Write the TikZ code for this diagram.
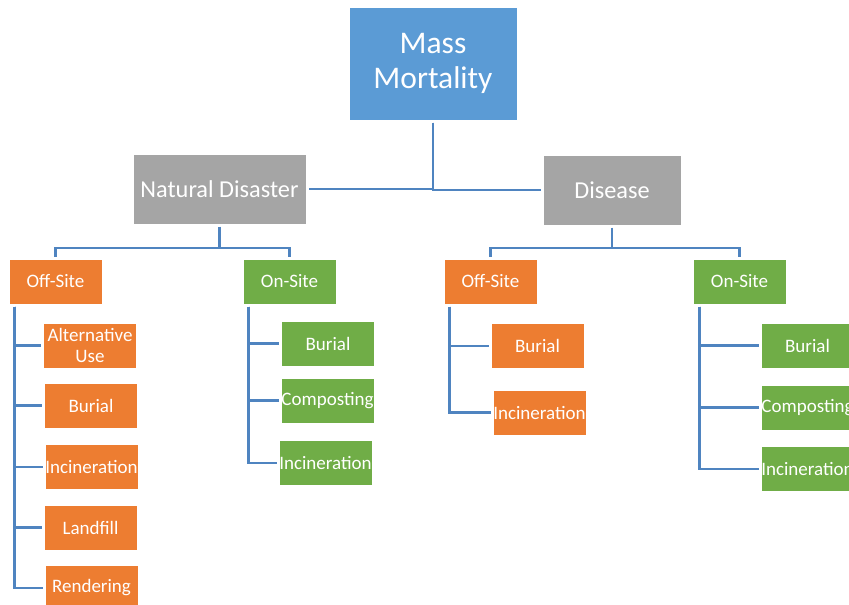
\documentclass[tikz,border=0pt]{standalone}
\usepackage{fontspec}
\setmainfont{Carlito}
\definecolor{cblue}{HTML}{5B9BD5}
\definecolor{cgray}{HTML}{A5A5A5}
\definecolor{corange}{HTML}{ED7D31}
\definecolor{cgreen}{HTML}{70AD47}
\definecolor{cline}{HTML}{4F84C0}
\begin{document}
\begin{tikzpicture}[x=1pt,y=-1pt,
  box/.style={draw=white, line width=0.8pt, text=white, inner sep=0pt, outer sep=2.5pt, align=center, anchor=center},
  topbox/.style={box, fill=cblue, minimum width=168pt, minimum height=113pt, font=\fontsize{31.5}{35}\selectfont},
  midbox/.style={box, fill=cgray, minimum height=70pt, font=\fontsize{24.3}{28}\selectfont},
  orbox/.style={box, fill=corange, minimum width=93pt, minimum height=45pt, font=\fontsize{19}{20.5}\selectfont},
  grbox/.style={box, fill=cgreen, minimum width=93pt, minimum height=45pt, font=\fontsize{19}{20.5}\selectfont},
  conn/.style={draw=cline, line width=2.8pt}]
\useasboundingbox (0,0) rectangle (849,605);
\clip (0,0) rectangle (849,605);
\fill[white] (0,0) rectangle (849,605);
% level 1 and 2
\node[topbox] (mass) at (433,63.5) {Mass\\Mortality};
\node[midbox, minimum width=173pt] (nd) at (219.5,189) {Natural Disaster};
\node[midbox, minimum width=138pt] (dis) at (612,190) {Disease};
% level 3
\node[orbox] (ndoff) at (55.5,281.5) {Off-Site};
\node[grbox] (ndon) at (289.5,281.5) {On-Site};
\node[orbox] (doff) at (490.5,281.5) {Off-Site};
\node[grbox] (don) at (739.5,281.5) {On-Site};
% level 4, natural disaster off-site
\node[orbox] (na1) at (90,345.5) {Alternative\\Use};
\node[orbox] (na2) at (91,405.5) {Burial};
\node[orbox] (na3) at (91.5,467) {Incineration};
\node[orbox] (na4) at (90.5,527.5) {Landfill};
\node[orbox] (na5) at (91.5,588) {Rendering};
% natural disaster on-site
\node[grbox] (nb1) at (328,343.5) {Burial};
\node[grbox] (nb2) at (327.5,400.5) {Composting};
\node[grbox] (nb3) at (325.5,463) {Incineration};
% disease off-site
\node[orbox] (da1) at (537.5,346) {Burial};
\node[orbox] (da2) at (539.5,412.5) {Incineration};
% disease on-site
\node[grbox] (db1) at (807.5,345.5) {Burial};
\node[grbox] (db2) at (807.5,407.5) {Composting};
\node[grbox] (db3) at (807.5,469) {Incineration};
% junctions
\coordinate (ndj) at (219.5,248);
\coordinate (dj) at (612,248);
% connectors
\draw[conn] (mass.south) |- (nd.east);
\draw[conn] (mass.south) |- (dis.west);
\draw[conn] (nd.south) -- (ndj);
\draw[conn] (ndoff.north) |- (ndj) -| (ndon.north);
\draw[conn] (dis.south) -- (dj);
\draw[conn] (doff.north) |- (dj) -| (don.north);
\foreach \c in {na1,na2,na3,na4,na5}
  \draw[conn] ([xshift=8pt]ndoff.south west) |- (\c.west);
\foreach \c in {nb1,nb2,nb3}
  \draw[conn] ([xshift=8pt]ndon.south west) |- (\c.west);
\foreach \c in {da1,da2}
  \draw[conn] ([xshift=8pt]doff.south west) |- (\c.west);
\foreach \c in {db1,db2,db3}
  \draw[conn] ([xshift=9pt]don.south west) |- (\c.west);
\end{tikzpicture}
\end{document}
